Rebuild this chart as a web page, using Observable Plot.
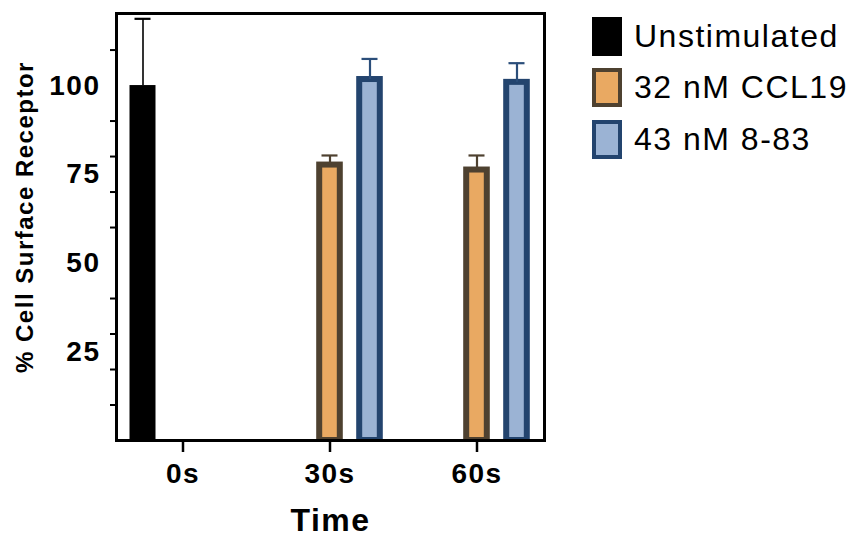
<!DOCTYPE html>
<html><head><meta charset="utf-8">
<script src="https://cdn.jsdelivr.net/npm/d3@7"></script>
<script src="https://cdn.jsdelivr.net/npm/@observablehq/plot@0.6"></script>
<style>
body{margin:0;background:#fff;font-family:"Liberation Sans",Arial,sans-serif;}
#wrap{position:relative;width:857px;height:538px;overflow:hidden;}
#legend{position:absolute;left:592px;top:17px;}
.item{display:flex;align-items:center;height:39px;margin-bottom:12.3px;}
.sw{box-sizing:border-box;width:30px;height:39px;border:4px solid;margin-right:12px;}
.lab{font-size:32px;letter-spacing:1.5px;color:#000;line-height:39px;white-space:nowrap;}
g[aria-label="x-axis tick label"], g[aria-label="y-axis tick label"]{font-size:28px;font-weight:bold;}
</style></head><body>
<div id="wrap"><div id="chart"></div><div id="legend"></div></div>
<script>
const times = ["0s", "30s", "60s"];
const series = ["Unstimulated", "32 nM CCL19", "43 nM 8-83"];
const unstimMean = [100, null, null];
const unstimErr = [18.8, null, null];
const ccl19Mean = [null, 77.6, 76.2];
const ccl19Err = [null, 2.7, 4.1];
const e883Mean = [null, 101.7, 100.9];
const e883Err = [null, 5.8, 5.4];
const fills = ["#000000", "#E9A962", "#9BB3D4"];
const strokes = ["#000000", "#4E4130", "#23446E"];
const errColors = ["#000000", "#4E4130", "#2B4E7A"];
const yLabelTicks = [25, 50, 75, 100];
const yMinorTicks = [10, 20, 30, 40, 60, 70, 80, 90, 110];
const xTitle = "Time";
const yTitle = "% Cell Surface Receptor";

const meanArrays = [unstimMean, ccl19Mean, e883Mean];
const errArrays = [unstimErr, ccl19Err, e883Err];
const offsets = [-40, 0, 40];

const rows = [];
series.forEach((s, i) => times.forEach((t, j) => {
  if (meanArrays[i][j] != null) rows.push({series: s, time: t, mean: meanArrays[i][j], err: errArrays[i][j]});
}));

const marks = [];
series.forEach((s, i) => {
  const data = rows.filter(d => d.series === s);
  marks.push(Plot.barY(data, {
    x: "time", y: "mean", fill: fills[i],
    stroke: i === 0 ? "none" : strokes[i], strokeWidth: 6,
    insetLeft: i === 0 ? 0.5 : 3.2, insetRight: i === 0 ? 0.5 : 3.2,
    dx: offsets[i], clip: true
  }));
  marks.push(Plot.ruleX(data, {x: "time", y1: "mean", y2: d => d.mean + d.err, stroke: errColors[i], strokeWidth: i === 0 ? 1.6 : 2.2, dx: offsets[i]}));
  marks.push(Plot.tickY(data, {x: "time", y: d => d.mean + d.err, stroke: errColors[i], strokeWidth: 2.2, dx: offsets[i], insetLeft: 5.5, insetRight: 5.5}));
});

marks.push(Plot.axisX({tickSize: 12, tickPadding: 11, fontSize: 28, fontWeight: "bold", strokeWidth: 2.5, label: null}));
marks.push(Plot.axisY(yLabelTicks, {tickSize: 0, tickPadding: 16, fontSize: 28, fontWeight: "bold", label: null}));
marks.push(Plot.axisY(yMinorTicks, {tickSize: 6, strokeWidth: 2, tickFormat: () => "", label: null}));
marks.push(Plot.text([xTitle], {frameAnchor: "bottom", textAnchor: "middle", dy: 90, fontSize: 32, fontWeight: "bold", fill: "#000"}));
marks.push(Plot.text([yTitle], {frameAnchor: "left", textAnchor: "middle", rotate: -90, dx: -91, dy: -10, fontSize: 24, fontWeight: "bold", fill: "#000"}));
marks.push(Plot.frame({stroke: "#000", strokeWidth: 3}));

const chart = Plot.plot({
  width: 560, height: 538,
  marginLeft: 116, marginRight: 16, marginTop: 13, marginBottom: 98,
  style: {fontFamily: "'Liberation Sans', Arial, sans-serif", letterSpacing: "1.5px", color: "#000", background: "#fff", overflow: "visible"},
  x: {type: "band", domain: times, paddingInner: 0.816, paddingOuter: 0.362},
  y: {domain: [0, 120.3]},
  marks
});
document.getElementById("chart").appendChild(chart);

const legend = document.getElementById("legend");
series.forEach((s, i) => {
  const item = document.createElement("div");
  item.className = "item";
  const sw = document.createElement("div");
  sw.className = "sw";
  sw.style.background = fills[i];
  sw.style.borderColor = strokes[i];
  const lab = document.createElement("span");
  lab.className = "lab";
  lab.textContent = s;
  item.appendChild(sw); item.appendChild(lab);
  legend.appendChild(item);
});
</script>
</body></html>
